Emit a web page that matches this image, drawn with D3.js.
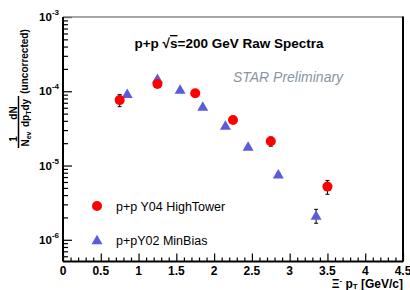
<!DOCTYPE html>
<html>
<head>
<meta charset="utf-8">
<script src="https://cdn.jsdelivr.net/npm/d3@7"></script>
<style>
  body { margin: 0; background: #fff; }
  text { font-family: "Liberation Sans", Arial, sans-serif; }
</style>
</head>
<body>
<div id="chart"></div>
<script>
// Y04 HighTower (red circles)
const htPt = [0.75, 1.25, 1.75, 2.25, 2.75, 3.5];
const htYield = [7.6e-5, 1.25e-4, 9.4e-5, 4.1e-5, 2.12e-5, 5.2e-6];
const htErr = [1.4e-5, 8e-6, 5e-6, 4e-6, 3e-6, 1.1e-6];

// Y02 MinBias (blue triangles)
const mbPt = [0.85, 1.25, 1.55, 1.85, 2.15, 2.45, 2.85, 3.35];
const mbYield = [9.2e-5, 1.47e-4, 1.05e-4, 6.2e-5, 3.44e-5, 1.8e-5, 7.6e-6, 2.12e-6];
const mbErr = [2e-6, 3e-6, 2e-6, 1.2e-6, 8e-7, 5e-7, 3e-7, 4.5e-7];

const xMajor = [0, 0.5, 1, 1.5, 2, 2.5, 3, 3.5, 4, 4.5];
const yExp = [-3, -4, -5, -6];

const W = 410, H = 290;
const margin = { top: 17, right: 7, bottom: 28.5, left: 63 };
const width = W - margin.left - margin.right,
  height = H - margin.top - margin.bottom;

const svg = d3.select("#chart").append("svg")
  .attr("width", W).attr("height", H);
const g = svg.append("g")
  .attr("transform", `translate(${margin.left},${margin.top})`);

const x = d3.scaleLinear().domain([0, 4.5]).range([0, width]);
const y = d3.scaleLog().domain([5.1e-7, 1e-3]).range([height, 0]);

// x axis: minor + major ticks pointing up
const xMinor = d3.range(0, 4.501, 0.1).filter(v => Math.abs(v * 2 - Math.round(v * 2)) > 1e-6);
g.append("g").attr("transform", `translate(0,${height})`)
  .call(d3.axisTop(x).tickValues(xMinor).tickSize(4).tickFormat(""))
  .call(a => a.select(".domain").remove());
g.append("g").attr("transform", `translate(0,${height})`)
  .call(d3.axisTop(x).tickValues(xMajor).tickSize(8).tickFormat(""))
  .call(a => a.select(".domain").remove());
g.selectAll(".tick line").attr("stroke", "#000").attr("stroke-width", 1.2);

// x tick labels
g.append("g").selectAll("text").data(xMajor).join("text")
  .attr("x", d => x(d)).attr("y", height + 13)
  .attr("text-anchor", "middle")
  .attr("font-size", 12).attr("font-weight", "bold")
  .text(d => d3.format("~g")(d));

// y axis: minor + major ticks pointing right
const yMinor = [];
[-7, -6, -5, -4].forEach(e => { for (let k = 2; k <= 9; k++) { const v = k * Math.pow(10, e); if (v >= 5.1e-7 && v <= 1e-3) yMinor.push(v); } });
const yMajorVals = yExp.map(e => Math.pow(10, e));
g.append("g")
  .call(d3.axisRight(y).tickValues(yMinor).tickSize(5).tickFormat(""))
  .call(a => a.select(".domain").remove())
  .selectAll("line").attr("stroke", "#000").attr("stroke-width", 1.2);
g.append("g")
  .call(d3.axisRight(y).tickValues(yMajorVals).tickSize(9).tickFormat(""))
  .call(a => a.select(".domain").remove())
  .selectAll("line").attr("stroke", "#000").attr("stroke-width", 1.2);

// y tick labels 10^n
const yl = g.append("g").selectAll("text").data(yExp).join("text")
  .attr("x", -4).attr("y", d => y(Math.pow(10, d)) + 4)
  .attr("text-anchor", "end")
  .attr("font-size", 11.5).attr("font-weight", "bold");
yl.append("tspan").text("10");
yl.append("tspan").attr("dy", -6).attr("font-size", 8).text(d => d);

// frame
g.append("line").attr("x1", 0).attr("x2", width).attr("y1", 0).attr("y2", 0)
  .attr("stroke", "#888").attr("stroke-width", 1.5);
g.append("line").attr("x1", width).attr("x2", width).attr("y1", -0.5).attr("y2", height)
  .attr("stroke", "#000").attr("stroke-width", 2);
g.append("line").attr("x1", 0).attr("x2", 0).attr("y1", 0).attr("y2", height)
  .attr("stroke", "#000").attr("stroke-width", 2);
g.append("line").attr("x1", 0).attr("x2", width).attr("y1", height).attr("y2", height)
  .attr("stroke", "#000").attr("stroke-width", 2);

// error bars
function errBars(xs, ys, es) {
  const d = xs.map((v, i) => ({ x: v, y: ys[i], e: es[i] }));
  const eg = g.append("g").attr("stroke", "#000").attr("stroke-width", 1);
  eg.selectAll("line.v").data(d).join("line").attr("class", "v")
    .attr("x1", p => x(p.x)).attr("x2", p => x(p.x))
    .attr("y1", p => y(p.y + p.e)).attr("y2", p => y(p.y - p.e));
  eg.selectAll("line.t").data(d).join("line").attr("class", "t")
    .attr("x1", p => x(p.x) - 2).attr("x2", p => x(p.x) + 2)
    .attr("y1", p => y(p.y + p.e)).attr("y2", p => y(p.y + p.e));
  eg.selectAll("line.b").data(d).join("line").attr("class", "b")
    .attr("x1", p => x(p.x) - 2).attr("x2", p => x(p.x) + 2)
    .attr("y1", p => y(p.y - p.e)).attr("y2", p => y(p.y - p.e));
}
errBars(mbPt, mbYield, mbErr);
errBars(htPt, htYield, htErr);

const tri = d3.symbol().type(d3.symbolTriangle).size(52);
const blue = "#5b5bdc", red = "#ff0000";

g.append("g").selectAll("path").data(mbPt).join("path")
  .attr("d", tri)
  .attr("transform", (d, i) => `translate(${x(d)},${y(mbYield[i]) + 1})`)
  .attr("fill", blue);

g.append("g").selectAll("circle").data(htPt).join("circle")
  .attr("cx", d => x(d)).attr("cy", (d, i) => y(htYield[i]))
  .attr("r", 5).attr("fill", red);

// title
const title = svg.append("text").attr("x", 229).attr("y", 48)
  .attr("text-anchor", "middle").attr("font-size", 13.5).attr("font-weight", "bold");
title.append("tspan").text("p+p \u221A");
title.append("tspan").attr("text-decoration", "overline").text("s");
title.append("tspan").text("=200 GeV Raw Spectra");

svg.append("text").attr("x", 288).attr("y", 82)
  .attr("text-anchor", "middle").attr("font-size", 14)
  .attr("font-style", "italic").attr("fill", "#8796a3")
  .text("STAR Preliminary");

// legend
svg.append("circle").attr("cx", 97).attr("cy", 206).attr("r", 5).attr("fill", red);
svg.append("path").attr("d", tri).attr("transform", "translate(97,241)").attr("fill", blue);
svg.append("text").attr("x", 116).attr("y", 211).attr("font-size", 12.5).text("p+p Y04 HighTower");
svg.append("text").attr("x", 116).attr("y", 245).attr("font-size", 12.5).text("p+pY02 MinBias");

// x axis title
const xt = svg.append("text").attr("x", 403).attr("y", 287.5)
  .attr("text-anchor", "end").attr("font-size", 12).attr("font-weight", "bold");
xt.append("tspan").text("\u039E");
xt.append("tspan").attr("dy", -5).attr("font-size", 8).text("-");
xt.append("tspan").attr("dy", 5).text(" p");
xt.append("tspan").attr("dy", 1.5).attr("font-size", 8).text("T");
xt.append("tspan").attr("dy", -1.5).text(" [GeV/c]");

// y axis title (rotated fractions)
const yFont = 10;
const yt = svg.append("g").attr("transform", "rotate(-90)");
function frac(cy, num, denParts) {
  yt.append("text").attr("x", -cy).attr("y", 16.5).attr("text-anchor", "middle")
    .attr("font-size", yFont).attr("font-weight", "bold").text(num);
  const den = yt.append("text").attr("x", -cy).attr("y", 29).attr("text-anchor", "middle")
    .attr("font-size", yFont).attr("font-weight", "bold");
  denParts.forEach(p => den.append("tspan").attr("dy", p[1]).attr("font-size", p[2]).text(p[0]));
  return den;
}
frac(139, "1", [["N", 0, yFont], ["ev", 2, 7]]);
frac(113, "dN", [["dp", 0, yFont], ["T", 2, 7], ["dy", -2, yFont]]);
// fraction bars
yt.append("line").attr("x1", -148).attr("x2", -130).attr("y1", 18.5).attr("y2", 18.5)
  .attr("stroke", "#000").attr("stroke-width", 1.5);
yt.append("line").attr("x1", -130).attr("x2", -96).attr("y1", 18.5).attr("y2", 18.5)
  .attr("stroke", "#000").attr("stroke-width", 1.5);
yt.append("text").attr("x", -61.5).attr("y", 28).attr("text-anchor", "middle")
  .attr("font-size", yFont).attr("font-weight", "bold").text("(uncorrected)");
</script>
</body>
</html>
